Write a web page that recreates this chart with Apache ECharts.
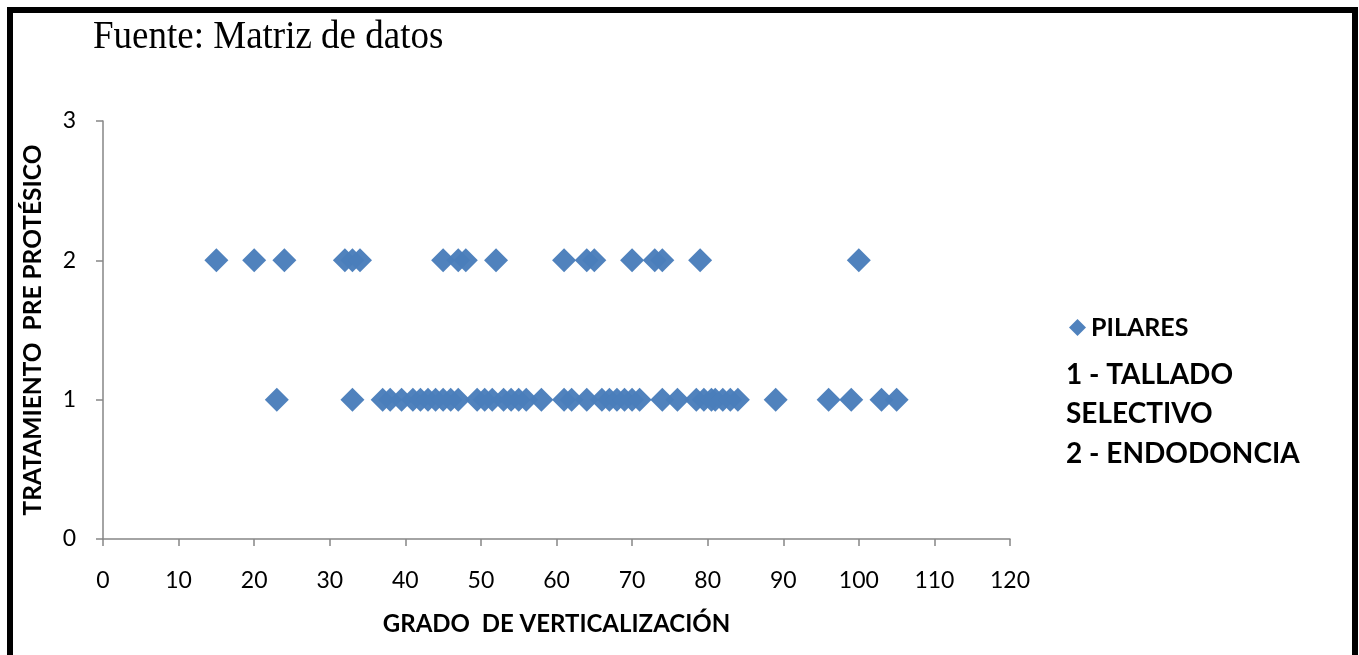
<!DOCTYPE html>
<html>
<head>
<meta charset="utf-8">
<script src="https://cdn.jsdelivr.net/npm/echarts@6/dist/echarts.min.js"></script>
<style>
  html, body { margin: 0; padding: 0; background: #ffffff; }
  #chart { width: 1359px; height: 655px; }
</style>
</head>
<body>
<div id="chart"></div>
<script>
// Grado de verticalización de cada pilar, por tratamiento
const tratamiento1 = [23, 33, 37, 38, 39.5, 41, 42, 43, 44, 45, 46, 47, 49.5, 50.5, 51.5, 53, 54, 55, 56, 58,
  61, 62, 64, 66, 67, 68, 69, 70, 71, 74, 76, 78.5, 79.5, 80.5, 81, 82, 83, 84, 89, 96, 99, 103, 105];
const tratamiento2 = [15, 20, 24, 32, 33, 34, 45, 47, 48, 52, 61, 64, 65, 70, 73, 74, 79, 100];
const xTicks = { min: 0, max: 120, interval: 10 };
const yTicks = { min: 0, max: 3, interval: 1 };
const legendNotes = ['1 - TALLADO', 'SELECTIVO', '2 - ENDODONCIA'];

const points = [];
tratamiento1.forEach(v => points.push([v, 1]));
tratamiento2.forEach(v => points.push([v, 2]));

const chart = echarts.init(document.getElementById('chart'));
const axisGray = '#868686';
const sans = 'Lato, "Open Sans", sans-serif';

chart.setOption({
  backgroundColor: '#ffffff',
  animation: false,
  grid: { left: 103, right: 349, top: 121, bottom: 116 },
  xAxis: {
    type: 'value',
    min: xTicks.min, max: xTicks.max, interval: xTicks.interval,
    name: 'GRADO  DE VERTICALIZACIÓN',
    nameLocation: 'middle',
    nameGap: 73,
    nameTextStyle: { fontFamily: sans, fontWeight: 'bold', fontSize: 24, color: '#000' },
    axisLine: { onZero: false, lineStyle: { color: axisGray, width: 1.5 } },
    axisTick: { show: true, inside: false, length: 7, lineStyle: { color: axisGray, width: 1.5 } },
    axisLabel: { color: '#000', fontFamily: sans, fontSize: 23, margin: 30 },
    splitLine: { show: false }
  },
  yAxis: {
    type: 'value',
    min: yTicks.min, max: yTicks.max, interval: yTicks.interval,
    name: 'TRATAMIENTO  PRE PROTÉSICO',
    nameLocation: 'middle',
    nameGap: 57,
    nameRotate: 90,
    nameTextStyle: { fontFamily: sans, fontWeight: 'bold', fontSize: 24.5, color: '#000' },
    axisLine: { show: true, lineStyle: { color: axisGray, width: 1.5 } },
    axisTick: { show: true, inside: false, length: 7, lineStyle: { color: axisGray, width: 1.5 } },
    axisLabel: { color: '#000', fontFamily: sans, fontSize: 23, margin: 27 },
    splitLine: { show: false }
  },
  legend: {
    data: [{ name: 'PILARES', icon: 'diamond' }],
    left: 1064, top: 310,
    itemWidth: 17, itemHeight: 17, itemGap: 4,
    textStyle: { fontFamily: sans, fontWeight: 'bold', fontSize: 25, color: '#000' }
  },
  graphic: [
    {
      type: 'rect', silent: true, z: 100,
      shape: { x: 10, y: 10, width: 1345, height: 700 },
      style: { fill: 'none', stroke: '#000', lineWidth: 6 }
    },
    {
      type: 'text', left: 93, top: 17, scaleY: 1.1,
      style: { text: 'Fuente: Matriz de datos', font: '37px "Liberation Serif", "Times New Roman", serif', fill: '#000' }
    },
    {
      type: 'text', left: 1066, top: 355,
      style: {
        text: legendNotes.join('\n'),
        font: 'bold 28px ' + sans,
        lineHeight: 39.5,
        fill: '#000'
      }
    }
  ],
  series: [{
    name: 'PILARES',
    type: 'scatter',
    symbol: 'diamond',
    symbolSize: 24,
    itemStyle: { color: '#4a7ebb', opacity: 0.97 },
    data: points
  }]
});
</script>
</body>
</html>
